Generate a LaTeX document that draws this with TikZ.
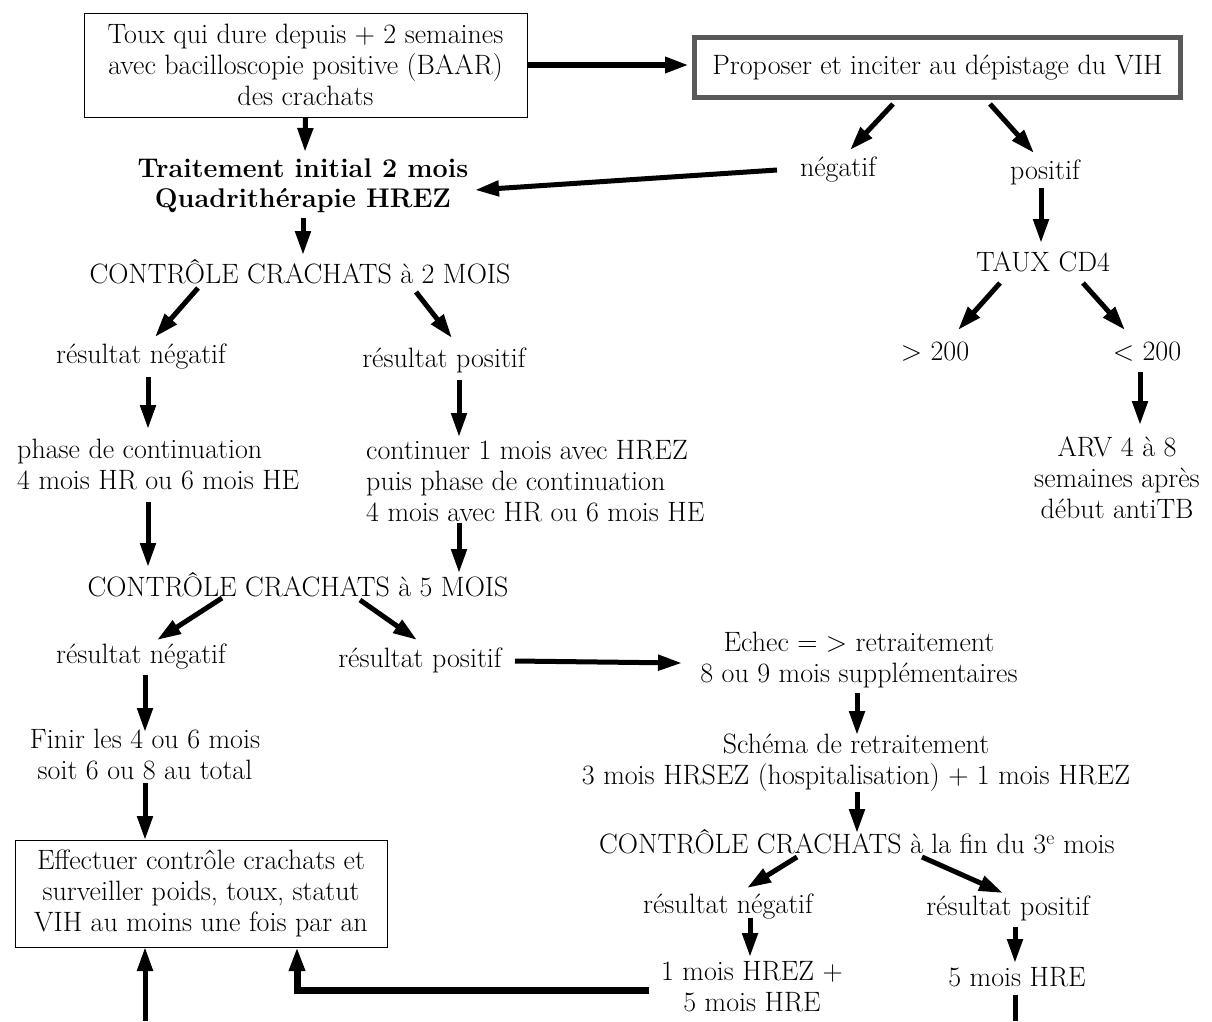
\documentclass[tikz,border=0pt]{standalone}
\usepackage{fontspec}
\usetikzlibrary{arrows.meta}
\begin{document}
\begin{tikzpicture}[x=1pt,y=-1pt,
  txt/.style={font=\fontsize{28}{31}\selectfont, align=center, inner sep=0pt},
  boxed/.style={txt, draw, line width=1pt},
  arr/.style={line width=5pt, -{Triangle[length=24pt,width=15pt]}},
  plain/.style={line width=5pt}]
\useasboundingbox[fill=white] (0,0) rectangle (1212,1021);

% boxes
\node[boxed, minimum width=443pt, minimum height=104pt] (box1) at (305.5,65)
  {Toux qui dure depuis + 2 semaines\\avec bacilloscopie positive (BAAR)\\des crachats};
\node[txt, draw=black!65, line width=5pt, minimum width=486pt, minimum height=60pt] (box2) at (937.5,67.5)
  {Proposer et inciter au dépistage du VIH};
\node[boxed, minimum width=372pt, minimum height=107pt] (box3) at (201,893.5)
  {Effectuer contrôle crachats et\\surveiller poids, toux, statut\\VIH au moins une fois par an};

% right branch
\node[txt] (neg) at (838,170) {négatif};
\node[txt] (pos) at (1045,172) {positif};
\node[txt] (cd4) at (1043,262) {TAUX CD4};
\node[txt] (gt) at (935,352) {> 200};
\node[txt] (lt) at (1147,352) {< 200};
\node[txt] (arv) at (1117,478) {ARV 4 à 8\\semaines après\\début antiTB};

% left column
\node[txt, font=\fontsize{27}{30}\selectfont\bfseries] (trait) at (303,186)
  {Traitement initial 2 mois\\Quadrithérapie HREZ};
\node[txt] (c2) at (300,272) {CONTRÔLE CRACHATS à 2 MOIS};
\node[txt] (rn1) at (141,357) {résultat négatif};
\node[txt] (rp1) at (444,360) {résultat positif};
\node[txt, align=left, anchor=west] (phase) at (17,464)
  {phase de continuation\\4 mois HR ou 6 mois HE};
\node[txt, align=left, anchor=west] (cont) at (366,481)
  {continuer 1 mois avec HREZ\\puis phase de continuation\\4 mois avec HR ou 6 mois HE};
\node[txt] (c5) at (298,585) {CONTRÔLE CRACHATS à 5 MOIS};
\node[txt] (rn2) at (141,657) {résultat négatif};
\node[txt] (rp2) at (420,660) {résultat positif};
\node[txt] (finir) at (145,754) {Finir les 4 ou 6 mois\\soit 6 ou 8 au total};

% retreatment branch
\node[txt] (echec) at (859,660) {Echec = > retraitement\\8 ou 9 mois supplémentaires};
\node[txt] (schema) at (856,763) {Schéma de retraitement\\3 mois HRSEZ (hospitalisation) + 1 mois HREZ};
\node[txt] (c3) at (857,842) {CONTRÔLE CRACHATS à la fin du 3\textsuperscript{e} mois};
\node[txt] (rn3) at (728,907) {résultat négatif};
\node[txt] (rp3) at (1008,908) {résultat positif};
\node[txt] (hrez) at (752,987) {1 mois HREZ +\\5 mois HRE};
\node[txt] (hre) at (1017,977) {5 mois HRE};

\coordinate (bl) at (145,1021);
\coordinate (br) at (1015,1021);

% connectors
\draw[arr, line width=6pt, shorten >=3pt] (box1.east) -- (box1.east -| box2.west);
\draw[arr] (box1.south) -- ([shift={(2,-34)}]trait.center);
\draw[arr] ([shift={(-61,0)}]neg.center) -- ([shift={(172,4)}]trait.center);
\draw[arr] ([shift={(-44.5,36.5)}]box2.center) -- ([shift={(12,-20)}]neg.center);
\draw[arr] ([shift={(52.5,36.5)}]box2.center) -- ([shift={(-11,-19)}]pos.center);
\draw[arr] ([shift={(-4,16)}]pos.center) -- ([shift={(-2,-19)}]cd4.center);
\draw[arr] ([shift={(-43,21)}]cd4.center) -- ([shift={(23,-22)}]gt.center);
\draw[arr] ([shift={(40,21)}]cd4.center) -- ([shift={(-22,-22)}]lt.center);
\draw[arr] ([shift={(-7,20)}]lt.center) -- ([shift={(23,-53)}]arv.center);

\draw[arr] ([shift={(0,32)}]trait.center) -- ([shift={(3,-17)}]c2.center);
\draw[arr] ([shift={(-102,16)}]c2.center) -- ([shift={(14,-20)}]rn1.center);
\draw[arr] ([shift={(116,20)}]c2.center) -- ([shift={(8,-22)}]rp1.center);
\draw[arr] ([shift={(7,20)}]rn1.center) -- ([shift={(131,-35)}]phase.west);
\draw[arr] ([shift={(15,20)}]rp1.center) -- ([shift={(93,-44)}]cont.west);
\draw[arr] ([shift={(131,38)}]phase.west) -- ([shift={(-150,-18)}]c5.center);
\draw[arr] ([shift={(93,42)}]cont.west) -- ([shift={(161,-12)}]c5.center);
\draw[arr] ([shift={(-76,13)}]c5.center) -- ([shift={(16,-17)}]rn2.center);
\draw[arr] ([shift={(62,15)}]c5.center) -- ([shift={(-3,-20)}]rp2.center);
\draw[arr] ([shift={(95,1)}]rp2.center) -- ([shift={(-177,3)}]echec.center);
\draw[arr] ([shift={(4,18)}]rn2.center) -- ([shift={(0,-22)}]finir.center);
\draw[arr] ([shift={(0,29)}]finir.center) -- ([shift={(-56,-53.5)}]box3.center);
\draw[arr] (bl) -- ([shift={(-56,53.5)}]box3.center);
\draw[arr, line width=7pt] ([shift={(-103,3)}]hrez.center) -| ([shift={(96,53.5)}]box3.center);

\draw[arr] ([shift={(-2,33)}]echec.center) -- ([shift={(1,-28)}]schema.center);
\draw[arr] ([shift={(1,29)}]schema.center) -- ([shift={(0,-9)}]c3.center);
\draw[arr] ([shift={(-60,15)}]c3.center) -- ([shift={(19,-19)}]rn3.center);
\draw[arr] ([shift={(65,15)}]c3.center) -- ([shift={(-5,-15)}]rp3.center);
\draw[arr] ([shift={(22,11)}]rn3.center) -- ([shift={(-2,-30)}]hrez.center);
\draw[arr] ([shift={(7,19)}]rp3.center) -- ([shift={(-2,-14)}]hre.center);
\draw[plain] ([shift={(-2,18)}]hre.center) -- (br);
\end{tikzpicture}
\end{document}
